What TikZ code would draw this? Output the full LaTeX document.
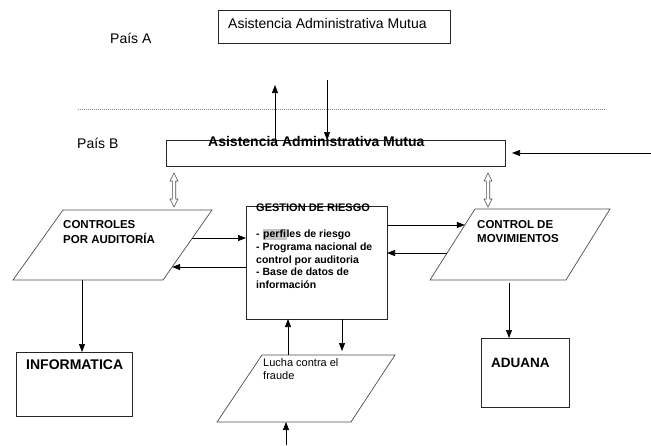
\documentclass[tikz,border=0pt]{standalone}
\usepackage{fontspec}
\setmainfont{Liberation Sans}
\usetikzlibrary{arrows.meta,calc}
\newcommand\dblhollow[3]{%
  \draw[hollow] (#1,#2) -- ({#1+4},{#2+8}) -- ({#1+1.7},{#2+8}) -- ({#1+1.7},{#3-8})
    -- ({#1+4},{#3-8}) -- (#1,#3) -- ({#1-4},{#3-8}) -- ({#1-1.7},{#3-8})
    -- ({#1-1.7},{#2+8}) -- ({#1-4},{#2+8}) -- cycle;}
\begin{document}
\begin{tikzpicture}[x=1pt,y=-1pt,
  box/.style={draw=black!85, line width=0.8pt, inner sep=0pt, outer sep=0pt, anchor=north west},
  para/.style={draw=black!70, line width=0.7pt},
  conn/.style={line width=0.7pt, -{Triangle[length=8pt,width=6pt]}},
  lbl/.style={inner sep=0pt, anchor=base west},
  hollow/.style={draw=black!70, line width=0.6pt, fill=white},
  big/.style={font=\fontsize{14}{16}\selectfont},
  bigb/.style={font=\bfseries\fontsize{14}{16}\selectfont},
  medb/.style={font=\bfseries\fontsize{11.5}{14}\selectfont},
  listb/.style={font=\bfseries\fontsize{10.5}{13}\selectfont},
  med/.style={font=\fontsize{11}{13}\selectfont}]
\useasboundingbox (0,0) rectangle (651,445);

% boxes
\node[box, minimum width=232pt, minimum height=33pt] (boxA) at (218,10) {};
\node[box, minimum width=339pt, minimum height=26pt] (boxB) at (166,140) {};
\node[box, minimum width=141pt, minimum height=113pt] (gest) at (246,206) {};
\node[box, minimum width=116pt, minimum height=64pt] (info) at (16,352) {};
\node[box, minimum width=88pt, minimum height=69pt] (adu) at (481,338) {};

% parallelograms
\coordinate (ctrTL) at (63,210); \coordinate (ctrTR) at (212,210);
\coordinate (ctrBR) at (163,280); \coordinate (ctrBL) at (13,280);
\draw[para] (ctrTL) -- (ctrTR) -- (ctrBR) -- (ctrBL) -- cycle;
\coordinate (cdmTL) at (475,209); \coordinate (cdmTR) at (610,209);
\coordinate (cdmBR) at (566,280); \coordinate (cdmBL) at (430,280);
\draw[para] (cdmTL) -- (cdmTR) -- (cdmBR) -- (cdmBL) -- cycle;
\coordinate (lucTL) at (262,355); \coordinate (lucTR) at (395,355);
\coordinate (lucBR) at (351,422); \coordinate (lucBL) at (217,422);
\draw[para] (lucTL) -- (lucTR) -- (lucBR) -- (lucBL) -- cycle;

% dotted separator
\coordinate (dl) at (78,109); \coordinate (dr) at (606,109);
\draw[black!50, line width=0.6pt, dash pattern=on 0.6pt off 1.4pt] (dl) -- (dr);

% texts
\node[lbl, big] (pA) at (110,43) {País A};
\node[lbl, big] (tA) at (228,28) {Asistencia Administrativa Mutua};
\node[lbl, big] (pB) at (77,148) {País B};
\node[lbl, bigb] (tB) at (208,146) {Asistencia Administrativa Mutua};
\node[lbl, medb] (c1) at (63,228) {CONTROLES};
\node[lbl, medb] (c2) at (63,243) {POR AUDITORÍA};
\node[lbl, medb] (m1) at (477,228) {CONTROL DE};
\node[lbl, medb] (m2) at (477,242) {MOVIMIENTOS};
\node[lbl, font=\bfseries\fontsize{11}{13}\selectfont] (g0) at (256,211) {GESTION DE RIESGO};
\node[lbl, listb] (g1) at (256,237) {- {\setlength{\fboxsep}{0.6pt}\colorbox{black!22}{perfi}}les de riesgo};
\node[lbl, listb] (g2) at (256,250) {- Programa nacional de};
\node[lbl, listb] (g3) at (256,263) {control por auditoria};
\node[lbl, listb] (g4) at (256,275) {- Base de datos de};
\node[lbl, listb] (g5) at (256,288) {información};
\node[lbl, bigb] (iT) at (26,369) {INFORMATICA};
\node[lbl, font=\bfseries\fontsize{13.5}{16}\selectfont] (aT) at (491,367) {ADUANA};
\node[lbl, med] (l1) at (263,366) {Lucha contra el};
\node[lbl, med] (l2) at (263,379) {fraude};

% connectors
\coordinate (u1) at (275,85);
\draw[conn] (u1 |- boxB.north) -- (u1);
\coordinate (d1) at (327,80);
\draw[conn] (d1) -- (d1 |- boxB.north);
\coordinate (r1) at (651,153); \coordinate (r2) at (512,153);
\draw[conn] (r1) -- (r2);

\dblhollow{174}{173}{207}
\dblhollow{488}{173}{207}

\coordinate (e1) at ($(ctrTR)!0.4!(ctrBR)$);
\draw[conn] (e1) -- (e1 -| gest.west);
\coordinate (e2) at ($(ctrTR)!0.814!(ctrBR)$);
\draw[conn] (e2 -| gest.west) -- (e2);
\coordinate (e3) at ($(cdmTL)!0.225!(cdmBL)$);
\draw[conn] (e3 -| gest.east) -- (e3);
\coordinate (e4) at ($(cdmTL)!0.62!(cdmBL)$);
\draw[conn] (e4) -- (e4 -| gest.east);

\coordinate (i1) at (82,280);
\draw[conn] (i1) -- (i1 |- info.north);
\coordinate (a1) at (509,283);
\draw[conn] (a1) -- (a1 |- adu.north);
\coordinate (f1) at (288,355);
\draw[conn] (f1) -- (f1 |- gest.south);
\coordinate (f2) at (342,351);
\draw[conn] (f2 |- gest.south) -- (f2);
\coordinate (f3) at (286,445);
\draw[conn] (f3) -- (f3 |- lucBL);
\end{tikzpicture}
\end{document}
